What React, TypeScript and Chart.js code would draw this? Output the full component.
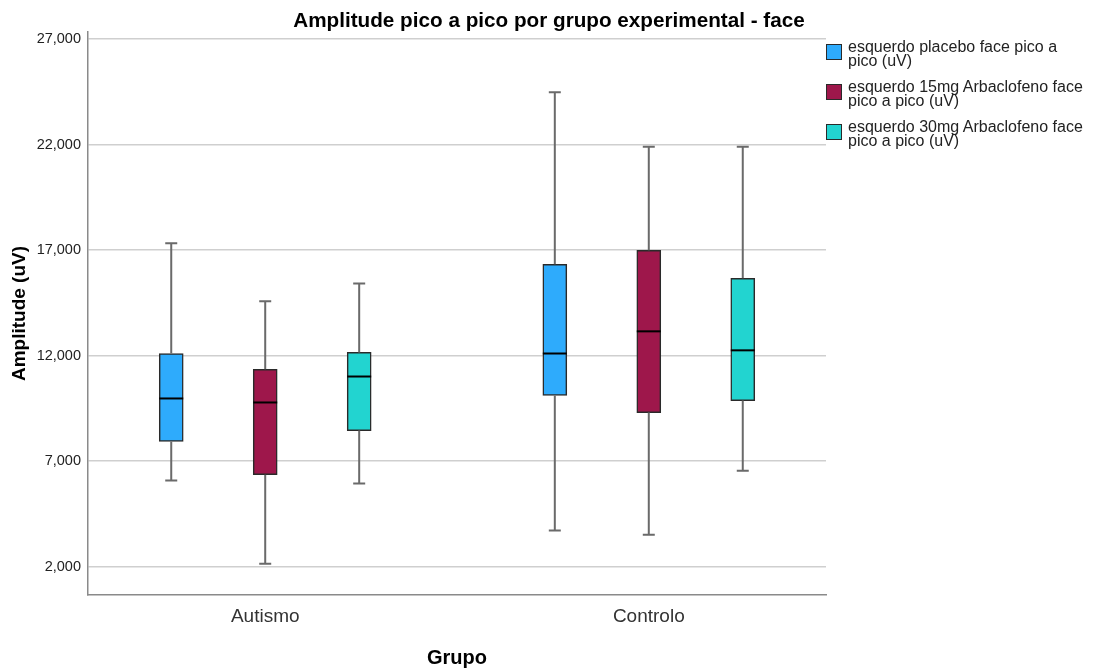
import React, { useEffect, useRef } from "react";
import { Chart, registerables } from "chart.js";

Chart.register(...registerables);

const chartTitle = "Amplitude pico a pico por grupo experimental - face";
const groups = ["Autismo", "Controlo"];
const seriesLabels = [
  ["esquerdo placebo face pico a", "pico (uV)"],
  ["esquerdo 15mg Arbaclofeno face", "pico a pico (uV)"],
  ["esquerdo 30mg Arbaclofeno face", "pico a pico (uV)"],
];
const seriesColors = ["#2EABFC", "#9E174B", "#22D4D0"];

// five-number summaries per group (Autismo, Controlo)
const placeboMin = [6080, 3710];
const placeboQ1 = [7930, 10110];
const placeboMedian = [9970, 12100];
const placeboQ3 = [12100, 16330];
const placeboMax = [17320, 24480];

const mg15Min = [2140, 3520];
const mg15Q1 = [6360, 9300];
const mg15Median = [9780, 13150];
const mg15Q3 = [11350, 16990];
const mg15Max = [14570, 21890];

const mg30Min = [5940, 6550];
const mg30Q1 = [8450, 9870];
const mg30Median = [11010, 12250];
const mg30Q3 = [12150, 15660];
const mg30Max = [15420, 21890];

const yTicks = [2000, 7000, 12000, 17000, 22000, 27000];
const yMin = 660;
const yMax = 27330;

const series = [
  { min: placeboMin, q1: placeboQ1, median: placeboMedian, q3: placeboQ3, max: placeboMax },
  { min: mg15Min, q1: mg15Q1, median: mg15Median, q3: mg15Q3, max: mg15Max },
  { min: mg30Min, q1: mg30Q1, median: mg30Median, q3: mg30Q3, max: mg30Max },
];

const FONT = '"Liberation Sans", Arial, sans-serif';
const seriesSpread = 0.245;

const boxPlugin = {
  id: "boxWhiskers",
  afterDatasetsDraw(chart: any) {
    const ctx = chart.ctx;
    const yScale = chart.scales.y;
    chart.data.datasets.forEach((ds: any, d: number) => {
      const meta = chart.getDatasetMeta(d);
      const s = series[d];
      meta.data.forEach((el: any, i: number) => {
        const x = el.x;
        const w = el.width;
        const pMin = yScale.getPixelForValue(s.min[i]);
        const pQ1 = yScale.getPixelForValue(s.q1[i]);
        const pMed = yScale.getPixelForValue(s.median[i]);
        const pQ3 = yScale.getPixelForValue(s.q3[i]);
        const pMax = yScale.getPixelForValue(s.max[i]);
        ctx.save();
        ctx.strokeStyle = "#6a6a6a";
        ctx.lineWidth = 2;
        ctx.beginPath();
        ctx.moveTo(x, pMax);
        ctx.lineTo(x, pQ3);
        ctx.moveTo(x, pQ1);
        ctx.lineTo(x, pMin);
        ctx.moveTo(x - 6, pMax);
        ctx.lineTo(x + 6, pMax);
        ctx.moveTo(x - 6, pMin);
        ctx.lineTo(x + 6, pMin);
        ctx.stroke();
        ctx.strokeStyle = "#000000";
        ctx.lineWidth = 2;
        ctx.beginPath();
        ctx.moveTo(x - w / 2, pMed);
        ctx.lineTo(x + w / 2, pMed);
        ctx.stroke();
        ctx.restore();
      });
    });
  },
  afterDraw(chart: any) {
    const ctx = chart.ctx;
    ctx.save();
    ctx.font = `bold 20.7px ${FONT}`;
    ctx.fillStyle = "#000";
    ctx.textAlign = "center";
    ctx.textBaseline = "alphabetic";
    ctx.fillText(chartTitle, 549, 26.5);
    ctx.restore();
  },
};

export default function App() {
  const canvasRef = useRef<HTMLCanvasElement | null>(null);

  useEffect(() => {
    if (!canvasRef.current) return;
    const datasets = series.map((s, d) => ({
      label: seriesLabels[d].join(" "),
      data: groups.map((_, i) => ({
        x: i + (d - 1) * seriesSpread,
        y: [s.q1[i], s.q3[i]],
      })),
      backgroundColor: seriesColors[d],
      borderColor: "#2a2a2a",
      borderWidth: 1.5,
      borderSkipped: false,
      barThickness: 24,
      grouped: false,
    }));

    const chart = new Chart(canvasRef.current, {
      type: "bar",
      data: { datasets } as any,
      options: {
        animation: false,
        responsive: false,
        layout: { padding: { top: 32, right: 272, left: 0, bottom: 0 } },
        plugins: {
          legend: { display: false },
          title: { display: false },
          tooltip: { enabled: false },
        },
        scales: {
          x: {
            type: "linear",
            min: -0.462,
            max: 1.462,
            offset: false,
            bounds: "ticks",
            afterBuildTicks: (scale: any) => {
              scale.ticks = groups.map((_, i) => ({ value: i }));
            },
            afterFit: (scale: any) => {
              scale.height = 75;
            },
            grid: { display: false, drawTicks: false, offset: false },
            border: { display: true, color: "#8a8a8a", width: 1.5 },
            ticks: {
              padding: 10,
              color: "#333",
              font: { family: FONT, size: 19 },
              callback: (v: any) => groups[Math.round(Number(v))] ?? "",
            },
            title: {
              display: true,
              text: "Grupo",
              color: "#000",
              font: { family: FONT, size: 20, weight: "bold" },
              padding: { top: 0, bottom: 0 },
            },
          },
          y: {
            type: "linear",
            min: yMin,
            max: yMax,
            afterBuildTicks: (scale: any) => {
              scale.ticks = yTicks.map((v) => ({ value: v }));
            },
            afterFit: (scale: any) => {
              scale.width = 88;
            },
            grid: { color: "#cfcfcf", lineWidth: 1.5, drawTicks: false },
            border: { display: true, color: "#8a8a8a", width: 1.5 },
            ticks: {
              padding: 7,
              color: "#222",
              font: { family: FONT, size: 14.5 },
              callback: (v: any) => Number(v).toLocaleString("en-US"),
            },
            title: {
              display: true,
              text: "Amplitude (uV)",
              color: "#000",
              font: { family: FONT, size: 19, weight: "bold" },
              padding: { top: 8.6, bottom: 0 },
            },
          },
        },
      } as any,
      plugins: [boxPlugin],
    });
    return () => chart.destroy();
  }, []);

  return (
    <div style={{ position: "absolute", left: 0, top: 0, width: 1098, height: 670, background: "#fff" }}>
      <canvas ref={canvasRef} width={1098} height={670} style={{ display: "block" }} />
      <div style={{ position: "absolute", left: 826, top: 40, fontFamily: FONT, fontSize: 16, lineHeight: "14px", color: "#222" }}>
        {seriesLabels.map((lines, d) => (
          <div key={d} style={{ display: "flex", alignItems: "flex-start", marginBottom: 12 }}>
            <div
              style={{
                width: 16,
                height: 16,
                marginTop: 4,
                boxSizing: "border-box",
                border: "1.5px solid #2a2a2a",
                background: seriesColors[d],
                flex: "0 0 auto",
              }}
            />
            <div style={{ marginLeft: 6, whiteSpace: "nowrap" }}>
              {lines.map((t, k) => (
                <div key={k}>{t}</div>
              ))}
            </div>
          </div>
        ))}
      </div>
    </div>
  );
}
